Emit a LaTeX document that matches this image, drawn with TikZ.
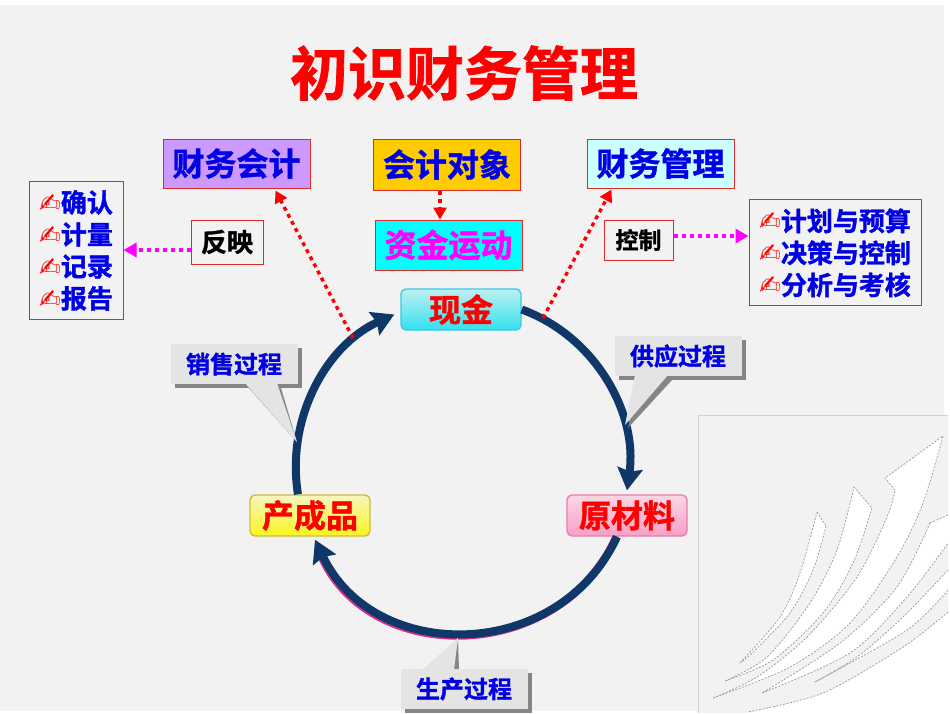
\documentclass[tikz,border=0pt]{standalone}
\usepackage{fontspec}
\setmainfont{Noto Sans CJK SC}[BoldFont={Noto Sans CJK SC Bold},BoldFeatures={FakeBold=1.3}]
\newfontfamily\iconfont{DejaVu Sans}
\usetikzlibrary{calc,positioning,arrows.meta,shadows}

\definecolor{pagegray}{HTML}{F2F2F2}
\definecolor{loopblue}{HTML}{0F3768}
\definecolor{textblue}{HTML}{0000E6}
\definecolor{tipgray}{HTML}{E4E4E4}
\definecolor{tipshadow}{HTML}{858585}
\definecolor{edgered}{HTML}{DC2A2A}
\definecolor{purecyan}{HTML}{00FFFF}
\definecolor{puremagenta}{HTML}{FF00FF}
\definecolor{loopedge}{HTML}{D0308A}

\newcommand{\penmark}[1]{{\iconfont\mdseries\fontsize{26}{26}\selectfont\textcolor{red}{\char"270D}}#1}

\tikzset{
  headbox/.style={draw=edgered,line width=1pt,minimum width=147pt,minimum height=49pt,inner sep=0pt,
    font=\fontsize{32}{32}\selectfont\bfseries,text=textblue},
  listbox/.style={draw=edgered,line width=1pt,inner sep=0pt,align=left,text=textblue,
    font=\fontsize{26}{32}\selectfont\bfseries},
  smallbox/.style={draw=edgered,line width=1pt,inner sep=0pt,text=black},
  stagebox/.style={rounded corners=5pt,line width=1.4pt,minimum width=120pt,minimum height=41pt,inner sep=0pt,
    text=red,font=\fontsize{32}{32}\selectfont\bfseries,shading angle=45},
  tipbox/.style={fill=tipgray,minimum width=127pt,minimum height=40pt,inner sep=0pt,text=textblue,
    font=\fontsize{24}{24}\selectfont\bfseries,
    drop shadow={shadow xshift=4pt,shadow yshift=-4pt,fill=tipshadow,opacity=1}},
  looparc/.style={draw=loopblue,line width=8pt,-{Stealth[width=25pt,length=22pt,inset=3pt]}},
  redlink/.style={draw=red,line width=3.4pt,dash pattern=on 4pt off 4pt,-{Triangle[width=13pt,length=12pt]}},
  pinklink/.style={draw=puremagenta,line width=3.4pt,dash pattern=on 4pt off 4pt,-{Triangle[width=14pt,length=13pt]}},
  sketch/.style={draw=gray!80,line width=0.7pt,dash pattern=on 2pt off 1.5pt}
}

\begin{document}
\begin{tikzpicture}[x=1pt,y=1pt]
\useasboundingbox (0,0) rectangle (950,-713);
\fill[white] (0,0) rectangle (950,-713);
\fill[pagegray] (0,-5) rectangle (944,-711);

% arrows picture in the corner
\fill[pagegray] (698,-415) rectangle (948,-713);
\draw[gray!35,line width=0.8pt] (698,-713) -- (698,-415) -- (948,-415);
\fill[white] (948,-612) -- plot[smooth] coordinates {(948,-612) (903,-647) (823,-693) (747,-713)} -- (950,-713) -- (950,-612) -- cycle;
\draw[sketch] plot[smooth] coordinates {(948,-612) (903,-647) (823,-693) (747,-712)};
\fill[white] (817,-512) -- (826,-526) -- plot[smooth] coordinates {(826,-526) (813,-570) (790,-613) (753,-652) (740,-663)}
  -- plot[smooth] coordinates {(740,-663) (780,-617) (800,-573) (817,-512)} -- cycle;
\draw[sketch] plot[smooth] coordinates {(826,-526) (813,-570) (790,-613) (753,-652) (740,-663)}
  plot[smooth] coordinates {(740,-663) (780,-617) (800,-573) (817,-512)} (817,-512) -- (826,-526);
\fill[white] (854,-487) -- (872,-508) -- plot[smooth] coordinates {(872,-508) (853,-563) (823,-613) (773,-660) (725,-681)}
  -- plot[smooth] coordinates {(725,-681) (767,-657) (810,-603) (837,-550) (854,-487)} -- cycle;
\draw[sketch] plot[smooth] coordinates {(872,-508) (853,-563) (823,-613) (773,-660) (725,-681)}
  plot[smooth] coordinates {(725,-681) (767,-657) (810,-603) (837,-550) (854,-487)} (854,-487) -- (872,-508);
\fill[white] (943,-436) -- plot[smooth] coordinates {(943,-436) (923,-503) (897,-557) (850,-623) (790,-667) (713,-698)}
  -- plot[smooth] coordinates {(713,-698) (757,-677) (807,-637) (857,-577) (887,-517) (895,-490)} -- (885,-478) -- cycle;
\draw[sketch] plot[smooth] coordinates {(943,-436) (923,-503) (897,-557) (850,-623) (790,-667) (713,-698)}
  plot[smooth] coordinates {(713,-698) (757,-677) (807,-637) (857,-577) (887,-517) (895,-490)} (895,-490) -- (885,-478) -- (943,-436);
\fill[white] (948,-515) -- (930,-523) -- plot[smooth] coordinates {(930,-523) (897,-587) (840,-643) (762,-693)}
  -- plot[smooth] coordinates {(762,-693) (850,-653) (907,-597) (948,-543)} -- cycle;
\draw[sketch] plot[smooth] coordinates {(930,-523) (897,-587) (840,-643) (762,-693)}
  plot[smooth] coordinates {(762,-693) (850,-653) (907,-597) (948,-543)} (930,-523) -- (948,-515);
\fill[white] plot[smooth] coordinates {(948,-570) (903,-617) (857,-657) (815,-682)}
  -- plot[smooth] coordinates {(815,-682) (907,-630) (948,-590)} -- cycle;
\draw[sketch] plot[smooth] coordinates {(948,-570) (903,-617) (857,-657) (815,-682)}
  plot[smooth] coordinates {(815,-682) (907,-630) (948,-590)};

\node at (464,-73) (title) {\fontsize{58}{58}\selectfont\bfseries\textcolor{red}{初识财务管理}};

\node[headbox,fill={rgb,255:red,204;green,153;blue,255}] at (236.5,-163.5) (accounting) {财务会计};
\node[headbox,fill={rgb,255:red,255;green,204;blue,0},minimum height=51pt] at (447,-164.5) (object) {会计对象};
\node[headbox,fill=purecyan,minimum height=50pt,text=puremagenta] at (448.5,-245) (capital) {资金运动};
\node[headbox,fill={rgb,255:red,204;green,255;blue,255}] at (660.5,-163.5) (management) {财务管理};

\node[smallbox,font=\fontsize{26}{26}\selectfont\bfseries,minimum width=72pt,minimum height=44pt] at (227,-242) (reflect) {反映};
\node[smallbox,font=\fontsize{23}{23}\selectfont\bfseries,minimum width=69pt,minimum height=40pt] at (638.5,-240) (control) {控制};

\node[listbox,minimum width=94pt,minimum height=138pt] at (76,-250) (reflectlist) {\rule{0pt}{23pt}\penmark{确认}\\\penmark{计量}\\\penmark{记录}\\\penmark{报告}};
\node[listbox,minimum width=172pt,minimum height=106pt] at (835,-252) (controllist) {\rule{0pt}{24pt}\penmark{计划与预算}\\\penmark{决策与控制}\\\penmark{分析与考核}};

\node[stagebox,draw={rgb,255:red,60;green,200;blue,235},top color={rgb,255:red,190;green,240;blue,240},bottom color={rgb,255:red,50;green,225;blue,240}] at (461,-309.5) (cash) {现金};
\node[stagebox,draw={rgb,255:red,235;green,125;blue,170},top color={rgb,255:red,250;green,215;blue,228},bottom color={rgb,255:red,248;green,160;blue,200}] at (627,-515.5) (material) {原材料};
\node[stagebox,draw={rgb,255:red,200;green,190;blue,60},top color={rgb,255:red,248;green,246;blue,190},bottom color={rgb,255:red,250;green,245;blue,30}] at (310,-515.5) (product) {产成品};

% the loop
\draw[looparc] (cash.east) to[out=-20,in=82,looseness=0.958] ([yshift=4]material.north);
\draw[looparc,-,draw=loopedge,shorten >=20pt] ([xshift=-11,yshift=-1]material.south) to[out=-114.7,in=-64.7,looseness=1.17] ([xshift=4,yshift=-4]product.south);
\draw[looparc] ([xshift=-10]material.south) to[out=-114.7,in=-64.7,looseness=1.17] ([xshift=5,yshift=-3]product.south);
\draw[looparc] ([xshift=-12]product.north) to[out=99.2,in=204.4,looseness=0.95] ([xshift=-6,yshift=-5]cash.west);

% dotted links
\coordinate (accountingfoot) at (353,-338);
\coordinate (managementfoot) at (543,-318);
\draw[redlink] (accountingfoot) -- ([xshift=39,yshift=-2]accounting.south);
\draw[redlink] (managementfoot) -- ([xshift=-49,yshift=-1]management.south);
\draw[redlink] ([xshift=-7]object.south) -- ([xshift=-8.5]capital.north);
\draw[pinklink] (reflect.west |- reflectlist.east) -- (reflectlist.east);
\draw[pinklink] ([yshift=4]control.east) -- ([yshift=4]control.east -| controllist.west);

% callouts
\coordinate (salepoint) at (297,-442);
\fill[tipshadow] (249,-388) -- (salepoint) -- (281,-388) -- cycle;
\node[tipbox] at (234,-364) (saletip) {销售过程};
\fill[tipgray] (245,-383) -- (salepoint) -- (277,-383) -- cycle;

\coordinate (supplypoint) at (625,-425);
\fill[tipshadow] (639,-380) -- (628,-428) -- (672,-380) -- cycle;
\node[tipbox] at (678,-356) (supplytip) {供应过程};
\fill[tipgray] (635,-375) -- (supplypoint) -- (668,-375) -- cycle;

\coordinate (producepoint) at (458,-638);
\fill[tipshadow] (453,-670) -- (producepoint) -- (459,-670) -- cycle;
\node[tipbox] at (464,-689) (producetip) {生产过程};
\fill[tipgray] (422,-670) -- (producepoint) -- (454,-670) -- cycle;
\end{tikzpicture}
\end{document}
